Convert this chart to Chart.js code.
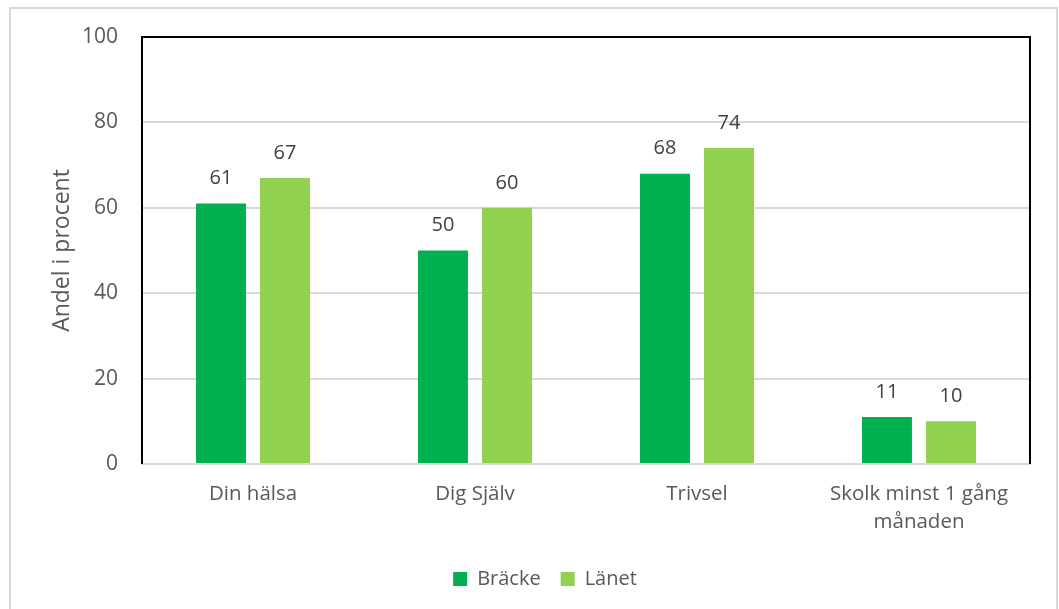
<!DOCTYPE html>
<html>
<head>
<meta charset="utf-8">
<script src="https://cdn.jsdelivr.net/npm/chart.js@4/dist/chart.umd.min.js"></script>
<style>
  body { margin: 0; background: #fff; }
  #wrap { position: absolute; left: 0; top: 0; width: 1059px; height: 609px; }
</style>
</head>
<body>
<div id="wrap"><canvas id="myChart" width="1059" height="609"></canvas></div>
<script>
// data
const categories = ['Din hälsa', 'Dig Själv', 'Trivsel', ['Skolk minst 1 gång', 'månaden']];
const brackeValues = [61, 50, 68, 11];
const lanetValues = [67, 60, 74, 10];
const yTicks = [0, 20, 40, 60, 80, 100];
const yTitle = 'Andel i procent';

const fontName = "'Open Sans', sans-serif";

// frame, plot border, axis title and value labels
const extras = {
  id: 'extras',
  beforeDraw(chart) {
    const ctx = chart.ctx;
    ctx.save();
    ctx.strokeStyle = '#d9d9d9';
    ctx.lineWidth = 2;
    ctx.beginPath();
    ctx.moveTo(10, 620);
    ctx.lineTo(10, 8);
    ctx.lineTo(1057, 8);
    ctx.lineTo(1057, 620);
    ctx.stroke();
    ctx.restore();
  },
  afterDatasetsDraw(chart) {
    const ctx = chart.ctx;
    const a = chart.chartArea;
    ctx.save();
    ctx.strokeStyle = '#000';
    ctx.lineWidth = 2;
    ctx.beginPath();
    ctx.moveTo(a.left, a.bottom);
    ctx.lineTo(a.left, a.top);
    ctx.lineTo(a.right, a.top);
    ctx.lineTo(a.right, a.bottom);
    ctx.stroke();

    ctx.fillStyle = '#404040';
    ctx.font = '20px ' + fontName;
    ctx.textAlign = 'center';
    ctx.textBaseline = 'middle';
    chart.data.datasets.forEach(function(ds, i) {
      chart.getDatasetMeta(i).data.forEach(function(bar, j) {
        ctx.fillText(ds.data[j], bar.x, bar.y - 25);
      });
    });

    // y axis title
    ctx.translate(62, (a.top + a.bottom) / 2);
    ctx.rotate(-Math.PI / 2);
    ctx.fillStyle = '#595959';
    ctx.font = '23px ' + fontName;
    ctx.fillText(yTitle, 0, 0);
    ctx.restore();
  }
};

const data = {
  labels: categories,
  datasets: [{
    label: 'Bräcke',
    backgroundColor: '#00B050',
    data: brackeValues,
  }, {
    label: 'Länet',
    backgroundColor: '#92D050',
    data: lanetValues,
  }]
};

const config = {
  type: 'bar',
  data: data,
  plugins: [extras],
  options: {
    responsive: false,
    animation: false,
    categoryPercentage: 0.577,
    barPercentage: 0.78,
    layout: { padding: { top: 37, right: 29, left: 60, bottom: 10 } },
    plugins: {
      legend: {
        position: 'bottom',
        labels: {
          boxWidth: 14,
          boxHeight: 14,
          color: '#595959',
          font: { family: fontName, size: 20 },
          padding: 20
        }
      },
      tooltip: { enabled: false }
    },
    scales: {
      x: {
        grid: { display: false, drawTicks: false },
        border: { color: '#d9d9d9', width: 2 },
        ticks: {
          color: '#595959',
          font: { family: fontName, size: 20.5, lineHeight: 1.38 },
          padding: 16,
          maxRotation: 0,
          autoSkip: false
        },
        afterFit(scale) { scale.height = 85; }
      },
      y: {
        min: 0,
        max: 100,
        afterBuildTicks(scale) { scale.ticks = yTicks.map(function(v) { return { value: v }; }); },
        grid: { color: '#d9d9d9', lineWidth: 2, drawTicks: false },
        border: { display: false },
        ticks: {
          color: '#595959',
          font: { family: fontName, size: 21 },
          padding: 24
        },
        afterFit(scale) { scale.width = 82; }
      }
    }
  }
};

const myChart = new Chart(document.getElementById('myChart'), config);
</script>
</body>
</html>
